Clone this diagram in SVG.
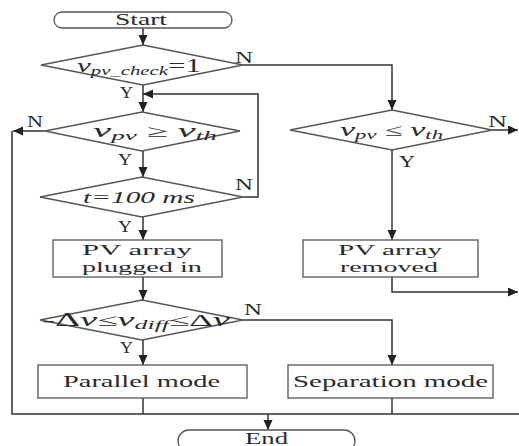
<svg xmlns="http://www.w3.org/2000/svg" width="519" height="446" viewBox="0 0 519 446">
<style>
.ln{stroke:#333;stroke-width:1.5;fill:none}
.sh{fill:#fff;stroke:#555;stroke-width:1.3}
text{font-family:"Liberation Serif","Times New Roman",serif;fill:#2a2a2a;font-size:16px}
.two{font-size:15px}
.lb{font-size:16px;fill:#2a2a2a}
.it{font-style:italic}
.sub{font-size:12px;font-style:italic}
</style>
<defs>
<marker id="ah" markerUnits="userSpaceOnUse" markerWidth="12" markerHeight="10" refX="10" refY="4.5" orient="auto">
<path d="M0,0 L10,4.5 L0,9 Z" fill="#222"/>
</marker>
</defs>
<rect width="519" height="446" fill="#fff"/>
<g id="connectors">
<path class="ln" d="M143,28 V45" marker-end="url(#ah)"/>
<path class="ln" d="M143,85 V112" marker-end="url(#ah)"/>
<path class="ln" d="M243,197 H258 V94 H143" marker-end="url(#ah)"/>
<path class="ln" d="M243,65 H392 V110" marker-end="url(#ah)"/>
<path class="ln" d="M45,131 H13" marker-end="url(#ah)"/>
<path class="ln" d="M12,131 V414 H519"/>
<path class="ln" d="M143,151 V177" marker-end="url(#ah)"/>
<path class="ln" d="M143,217 V240" marker-end="url(#ah)"/>
<path class="ln" d="M143,277 V300" marker-end="url(#ah)"/>
<path class="ln" d="M143,340 V365" marker-end="url(#ah)"/>
<path class="ln" d="M243,320 H392 V365" marker-end="url(#ah)"/>
<path class="ln" d="M392,150 V240" marker-end="url(#ah)"/>
<path class="ln" d="M492,130 H518" marker-end="url(#ah)"/>
<path class="ln" d="M392,277 V292 H518" marker-end="url(#ah)"/>
<path class="ln" d="M143,398 V414"/>
<path class="ln" d="M392,398 V414"/>
<path class="ln" d="M268,414 V430" marker-end="url(#ah)"/>
</g>
<g id="start">
<rect class="sh" x="54" y="12" width="178" height="16" rx="8"/>
<text x="115" y="25" textLength="52" lengthAdjust="spacingAndGlyphs">Start</text>
</g>
<g id="check">
<polygon class="sh" points="41,65 143,45 243,65 143,85"/>
<text x="77" y="72" textLength="124" lengthAdjust="spacingAndGlyphs"><tspan class="it" font-size="18">v</tspan><tspan class="sub" dy="3">pv_check</tspan><tspan dy="-3" font-size="18">=1</tspan></text>
<text class="lb" x="235" y="63" textLength="18" lengthAdjust="spacingAndGlyphs">N</text>
<text class="lb" x="120" y="98" textLength="13" lengthAdjust="spacingAndGlyphs">Y</text>
</g>
<g id="ge">
<polygon class="sh" points="45,131 142,112 240,131 142,151"/>
<text x="93" y="137" textLength="124" lengthAdjust="spacingAndGlyphs"><tspan class="it" font-size="18">v</tspan><tspan class="sub" dy="3">pv</tspan><tspan dy="-3" font-size="17"> ≥ </tspan><tspan class="it" font-size="18">v</tspan><tspan class="sub" dy="3">th</tspan></text>
<text class="lb" x="27" y="127" textLength="16" lengthAdjust="spacingAndGlyphs">N</text>
<text class="lb" x="118" y="165" textLength="14" lengthAdjust="spacingAndGlyphs">Y</text>
</g>
<g id="timer">
<polygon class="sh" points="40,197 142,177 243,197 142,217"/>
<text class="it" x="83" y="203" textLength="112" lengthAdjust="spacingAndGlyphs">t=100 ms</text>
<text class="lb" x="235" y="190" textLength="18" lengthAdjust="spacingAndGlyphs">N</text>
<text class="lb" x="118" y="232" textLength="14" lengthAdjust="spacingAndGlyphs">Y</text>
</g>
<g id="plugged">
<rect class="sh" x="53" y="240" width="169" height="37"/>
<text class="two" x="82" y="255" textLength="110" lengthAdjust="spacingAndGlyphs">PV array</text>
<text class="two" x="82" y="272" textLength="120" lengthAdjust="spacingAndGlyphs">plugged in</text>
</g>
<g id="diff">
<polygon class="sh" points="40,320 142,300 243,320 142,340"/>
<text x="42" y="326" textLength="188" lengthAdjust="spacingAndGlyphs"><tspan font-size="18">-Δ</tspan><tspan class="it" font-size="18">v</tspan><tspan font-size="17">≤</tspan><tspan class="it" font-size="18">v</tspan><tspan class="sub" dy="3">diff</tspan><tspan dy="-3" font-size="17">≤Δ</tspan><tspan class="it" font-size="18">v</tspan></text>
<text class="lb" x="244" y="315" textLength="18" lengthAdjust="spacingAndGlyphs">N</text>
<text class="lb" x="120" y="353" textLength="13" lengthAdjust="spacingAndGlyphs">Y</text>
</g>
<g id="parallel">
<rect class="sh" x="38" y="365" width="209" height="33"/>
<text x="63" y="387" textLength="157" lengthAdjust="spacingAndGlyphs">Parallel mode</text>
</g>
<g id="le">
<polygon class="sh" points="290,130 392,110 492,130 392,150"/>
<text x="340" y="136" textLength="103" lengthAdjust="spacingAndGlyphs"><tspan class="it" font-size="18">v</tspan><tspan class="sub" dy="3">pv</tspan><tspan dy="-3" font-size="17"> ≤ </tspan><tspan class="it" font-size="18">v</tspan><tspan class="sub" dy="3">th</tspan></text>
<text class="lb" x="488" y="127" textLength="19" lengthAdjust="spacingAndGlyphs">N</text>
<text class="lb" x="399" y="167" textLength="16" lengthAdjust="spacingAndGlyphs">Y</text>
</g>
<g id="removed">
<rect class="sh" x="303" y="240" width="175" height="37"/>
<text class="two" x="338" y="255" textLength="104" lengthAdjust="spacingAndGlyphs">PV array</text>
<text class="two" x="340" y="272" textLength="98" lengthAdjust="spacingAndGlyphs">removed</text>
</g>
<g id="separation">
<rect class="sh" x="288" y="365" width="205" height="33"/>
<text x="293" y="387" textLength="195" lengthAdjust="spacingAndGlyphs">Separation mode</text>
</g>
<g id="end">
<rect class="sh" x="178" y="430" width="177" height="22" rx="11"/>
<text x="245" y="444" font-size="15" textLength="43" lengthAdjust="spacingAndGlyphs">End</text>
</g>
</svg>
